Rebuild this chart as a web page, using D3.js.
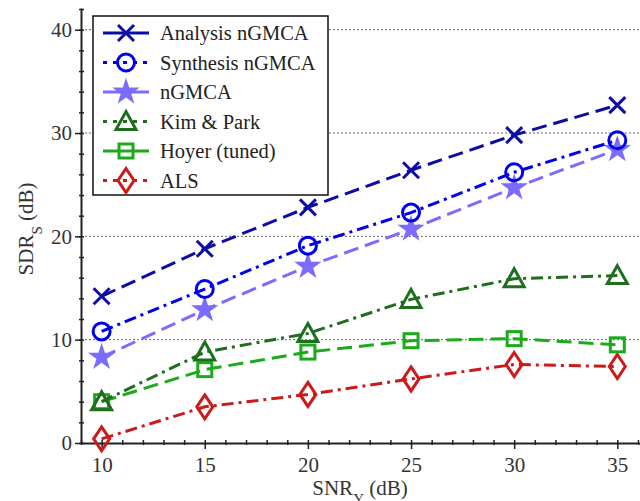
<!DOCTYPE html>
<html>
<head>
<meta charset="utf-8">
<script src="https://cdn.jsdelivr.net/npm/d3@7"></script>
<style>
  body { margin: 0; background: #fff; }
</style>
</head>
<body>
<div class="canvas"></div>
<script>
// data
const snr = [10, 15, 20, 25, 30, 35];
const analysisNGMCA = [14.2, 18.8, 22.8, 26.4, 29.8, 32.7];
const synthesisNGMCA = [10.8, 14.9, 19.1, 22.3, 26.2, 29.3];
const nGMCA = [8.3, 12.9, 17.1, 20.7, 24.7, 28.4];
const kimPark = [4.0, 8.8, 10.6, 13.9, 15.9, 16.2];
const hoyer = [4.0, 7.1, 8.8, 9.9, 10.1, 9.5];
const als = [0.4, 3.5, 4.7, 6.2, 7.6, 7.4];
const yTicks = [0, 10, 20, 30, 40];
const xTicks = [10, 15, 20, 25, 30, 35];

const series = [
    { name: 'Analysis nGMCA', values: analysisNGMCA, color: '#0c0ca6', dash: '15,7', marker: 'x' },
    { name: 'Synthesis nGMCA', values: synthesisNGMCA, color: '#0000f0', dash: '12,5,3,5', marker: 'circle' },
    { name: 'nGMCA', values: nGMCA, color: '#7b6cff', dash: '15,7', marker: 'star' },
    { name: 'Kim & Park', values: kimPark, color: '#1e6e1e', dash: '12,5,3,5', marker: 'triangle' },
    { name: 'Hoyer (tuned)', values: hoyer, color: '#1aaa1a', dash: '15,7', marker: 'square' },
    { name: 'ALS', values: als, color: '#cc1a1a', dash: '12,5,3,5', marker: 'diamond' }
];

const FONT = '"Liberation Serif", "Times New Roman", Tinos, "DejaVu Serif", serif';

const width = 640, height = 501;
const svg = d3.select('.canvas').append('svg')
    .attr('width', width)
    .attr('height', height);

// scales
const x = d3.scaleLinear().domain([9, 36.1]).range([81, 640]);
const y = d3.scaleLinear().domain([0, 42.1]).range([443, 8]);

// dotted grid
svg.append('g').selectAll('line')
    .data(yTicks.filter(d => d > 0))
    .enter().append('line')
    .attr('x1', x(9)).attr('x2', width)
    .attr('y1', d => y(d)).attr('y2', d => y(d))
    .attr('stroke', '#666')
    .attr('stroke-width', 1)
    .attr('stroke-dasharray', '2,2');

// minor ticks, small marks across the axis
svg.append('g').attr('class', 'minor')
    .attr('transform', `translate(0,${y(0) + 2})`)
    .call(d3.axisTop(x).ticks(28).tickSize(5).tickFormat('').tickSizeOuter(0));
svg.append('g').attr('class', 'minor')
    .attr('transform', `translate(${x(9) - 2},0)`)
    .call(d3.axisRight(y).ticks(21).tickSize(5).tickFormat('').tickSizeOuter(0));
svg.selectAll('.minor .domain').remove();

// main axes
const xAxisGroup = svg.append('g').attr('transform', `translate(0,${y(0)})`);
const yAxisGroup = svg.append('g').attr('transform', `translate(${x(9)},0)`);

xAxisGroup.call(d3.axisBottom(x).tickValues(xTicks).tickSize(6).tickSizeOuter(0).tickPadding(8));
yAxisGroup.call(d3.axisLeft(y).tickValues(yTicks).tickSize(6).tickSizeOuter(0).tickPadding(3));

svg.selectAll('.domain').attr('stroke', '#222').attr('stroke-width', 2);
svg.selectAll('.tick line').attr('stroke', '#222').attr('stroke-width', 1.5);
svg.selectAll('.tick text')
    .attr('fill', '#333')
    .style('font-size', '21px')
    .style('font-family', FONT);

// axis titles
const xt = svg.append('text')
    .attr('x', 360).attr('y', 495)
    .attr('text-anchor', 'middle')
    .attr('fill', '#333')
    .style('font-family', FONT)
    .style('font-size', '21px');
xt.append('tspan').text('SNR');
xt.append('tspan').attr('dy', 9).style('font-size', '15px').text('Y');
xt.append('tspan').attr('dy', -9).text(' (dB)');

const yt = svg.append('text')
    .attr('transform', `translate(33,229) rotate(-90)`)
    .attr('text-anchor', 'middle')
    .attr('fill', '#333')
    .style('font-family', FONT)
    .style('font-size', '21px');
yt.append('tspan').text('SDR');
yt.append('tspan').attr('dy', 9).style('font-size', '15px').text('S');
yt.append('tspan').attr('dy', -9).text(' (dB)');

// marker shapes
const drawMarker = (g, type, color) => {
    const s = { fill: 'none', stroke: color, 'stroke-width': 3 };
    let m;
    switch (type) {
        case 'x':
            m = g.append('path').attr('d', 'M-8,-8L8,8M-8,8L8,-8');
            break;
        case 'circle':
            m = g.append('circle').attr('r', 8.5);
            break;
        case 'star':
            m = g.append('path').attr('d', d3.symbol(d3.symbolStar, 140)());
            s.fill = color;
            s['stroke-width'] = 2;
            break;
        case 'triangle':
            m = g.append('path').attr('d', 'M0,-10L10,8L-10,8Z');
            break;
        case 'square':
            m = g.append('rect').attr('x', -7).attr('y', -7).attr('width', 14).attr('height', 14);
            break;
        case 'diamond':
            m = g.append('path').attr('d', 'M0,-12L8,0L0,12L-8,0Z');
            break;
    }
    Object.entries(s).forEach(([k, v]) => m.attr(k, v));
};

const line = d3.line()
    .x((d, i) => x(snr[i]))
    .y(d => y(d));

// draw lower series first so the top series sit above
series.slice().reverse().forEach(s => {
    const g = svg.append('g');
    g.append('path')
        .datum(s.values)
        .attr('d', line)
        .attr('fill', 'none')
        .attr('stroke', s.color)
        .attr('stroke-width', 3)
        .attr('stroke-dasharray', s.dash);
    g.selectAll('g.mk')
        .data(s.values)
        .enter().append('g')
        .attr('class', 'mk')
        .attr('transform', (d, i) => `translate(${x(snr[i])},${y(d)})`)
        .each(function () { drawMarker(d3.select(this), s.marker, s.color); });
});

// legend
const legend = svg.append('g');
legend.append('rect')
    .attr('x', 93).attr('y', 16)
    .attr('width', 235).attr('height', 179)
    .attr('fill', '#fff')
    .attr('stroke', '#111')
    .attr('stroke-width', 1.5);

series.forEach((s, i) => {
    const cy = 33 + i * 29.5;
    const row = legend.append('g');
    row.append('line')
        .attr('x1', 103).attr('x2', 149)
        .attr('y1', cy).attr('y2', cy)
        .attr('stroke', s.color)
        .attr('stroke-width', 3)
        .attr('stroke-dasharray', s.dash === '15,7' ? null : '4,6');
    const mg = row.append('g').attr('transform', `translate(126,${cy})`);
    drawMarker(mg, s.marker, s.color);
    row.append('text')
        .attr('x', 160).attr('y', cy + 7)
        .attr('fill', '#222')
        .style('font-family', FONT)
        .style('font-size', '20.5px')
        .text(s.name);
});
</script>
</body>
</html>
